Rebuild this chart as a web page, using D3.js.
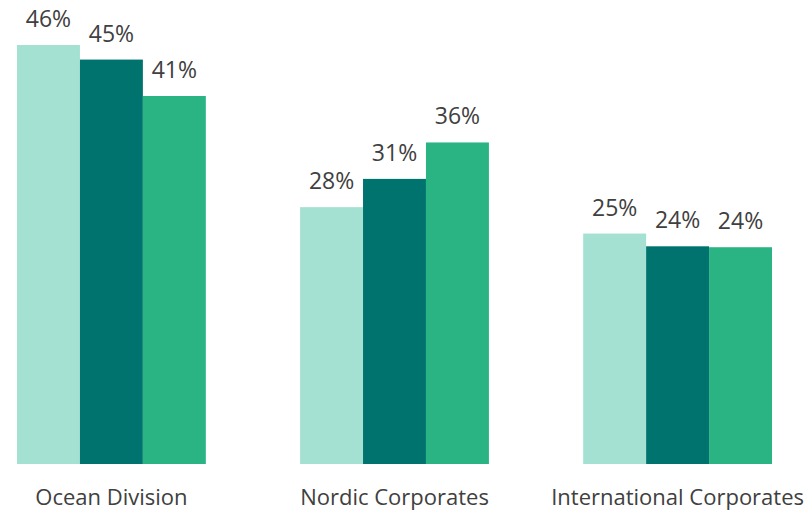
<!DOCTYPE html>
<html>
<head>
<meta charset="utf-8">
<script src="https://cdn.jsdelivr.net/npm/d3@7"></script>
<style>
  body { margin: 0; background: #ffffff; }
  svg { display: block; }
</style>
</head>
<body>
<div id="chart"></div>
<script>
// categories and series (labels as printed)
let categories = ["Ocean Division", "Nordic Corporates", "International Corporates"];
let seriesNames = ["s1", "s2", "s3"];
let series1 = [46.0, 28.2, 25.3];
let series2 = [44.4, 31.3, 23.9];
let series3 = [40.4, 35.3, 23.8];
let labels1 = ["46%", "28%", "25%"];
let labels2 = ["45%", "31%", "24%"];
let labels3 = ["41%", "36%", "24%"];

let width = 810;
let height = 512;
let textColor = "#404040";
let colors = d3.scaleOrdinal()
    .domain(seriesNames)
    .range(["#a5e1d3", "#00736f", "#2ab483"]);

// build rows for the grouped bars
let rows = [];
categories.forEach(function(c, i) {
    rows.push({cat: c, key: "s1", value: series1[i], label: labels1[i]});
    rows.push({cat: c, key: "s2", value: series2[i], label: labels2[i]});
    rows.push({cat: c, key: "s3", value: series3[i], label: labels3[i]});
});

let svg = d3.select("#chart")
    .append("svg")
    .attr("width", width)
    .attr("height", height);

let x0 = d3.scaleBand()
    .domain(categories)
    .range([17, 772])
    .paddingInner(0.333)
    .paddingOuter(0);

let x1 = d3.scaleBand()
    .domain(seriesNames)
    .range([0, x0.bandwidth()])
    .padding(0);

let y = d3.scaleLinear()
    .domain([0, 46])
    .range([464, 45]);

// bars
svg.append("g")
    .selectAll("rect")
    .data(rows)
    .enter()
    .append("rect")
    .attr("x", function(d) { return x0(d.cat) + x1(d.key); })
    .attr("y", function(d) { return y(d.value); })
    .attr("width", x1.bandwidth())
    .attr("height", function(d) { return y(0) - y(d.value); })
    .attr("fill", function(d) { return colors(d.key); });

// value labels
svg.append("g")
    .selectAll("text")
    .data(rows)
    .enter()
    .append("text")
    .attr("x", function(d) { return x0(d.cat) + x1(d.key) + x1.bandwidth() / 2; })
    .attr("y", function(d) { return y(d.value) - 18; })
    .attr("text-anchor", "middle")
    .style("font-family", "'Open Sans', 'Noto Sans', sans-serif")
    .style("font-size", "23px")
    .style("fill", textColor)
    .text(function(d) { return d.label; });

// category axis (no line, no ticks)
let xAxis = d3.axisBottom(x0).tickSize(0).tickPadding(0);
let axisG = svg.append("g")
    .attr("transform", "translate(0," + 464 + ")")
    .call(xAxis);
axisG.select(".domain").remove();
axisG.selectAll("text")
    .attr("dy", null)
    .attr("y", 41)
    .style("font-family", "'Open Sans', 'Noto Sans', sans-serif")
    .style("font-size", "22px")
    .style("fill", textColor);
</script>
</body>
</html>
